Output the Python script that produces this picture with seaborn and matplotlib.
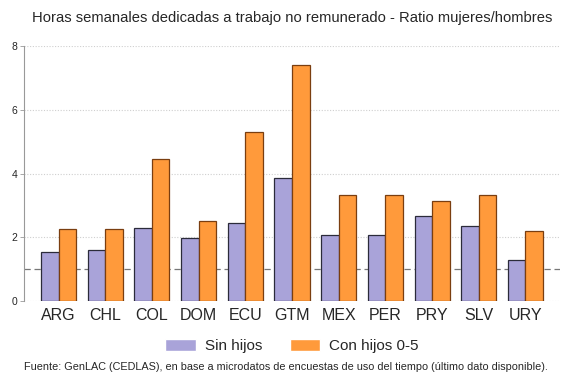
import numpy as np
import pandas as pd
import matplotlib
matplotlib.use("Agg")
import matplotlib.pyplot as plt
import seaborn as sns

# Data
paises = ['ARG', 'CHL', 'COL', 'DOM', 'ECU', 'GTM', 'MEX', 'PER', 'PRY', 'SLV', 'URY']
sin_hijos = [1.55, 1.60, 2.30, 1.98, 2.46, 3.86, 2.06, 2.08, 2.66, 2.36, 1.30]
con_hijos = [2.27, 2.27, 4.47, 2.52, 5.30, 7.40, 3.33, 3.33, 3.13, 3.33, 2.21]
series = ['Sin hijos', 'Con hijos 0-5']

df = pd.DataFrame({
    'pais': paises * 2,
    'ratio': sin_hijos + con_hijos,
    'grupo': [series[0]] * len(paises) + [series[1]] * len(paises),
})

sns.set_style("white")
plt.rcParams['font.family'] = ['Liberation Sans', 'DejaVu Sans']

colores = {'Sin hijos': '#a9a3d9', 'Con hijos 0-5': '#ff9a3b'}
bordes = {'Sin hijos': '#2b2b3a', 'Con hijos 0-5': '#7a3e10'}

fig = plt.figure(figsize=(5.69, 3.80), dpi=100)
ax = fig.add_axes([24 / 569, 1 - 301 / 380, (560 - 24) / 569, (301 - 46) / 380])

sns.barplot(data=df, x='pais', y='ratio', hue='grupo', palette=colores,
            width=0.75, gap=0, ax=ax, legend=True, saturation=1)

# edge colours per series
for cont, s in zip(ax.containers, series):
    for p in cont:
        p.set_edgecolor(bordes[s])
        p.set_linewidth(0.9)

ax.set_ylim(0, 8)
ax.set_xlim(-0.74, 10.74)
ax.set_yticks([0, 2, 4, 6, 8])
for yv in [0, 2, 4, 6, 8]:
    ax.axhline(yv, color='#cfcfcf', linestyle=(0, (1, 1.5)), linewidth=0.8, zorder=0)
ax.axhline(1, color='#777777', linestyle=(0, (5, 3)), linewidth=0.9, zorder=0.5)

ax.set_xlabel('')
ax.set_ylabel('')
ax.tick_params(axis='x', labelsize=11.5, length=0, pad=5)
ax.tick_params(axis='y', labelsize=7.5, length=3, width=0.6, color='#999999', pad=2, left=True)
for s in ['top', 'right', 'bottom']:
    ax.spines[s].set_visible(False)
ax.spines['left'].set_color('#999999')
ax.spines['left'].set_linewidth(0.8)

leg = ax.legend(loc='upper center', bbox_to_anchor=(0.5, -0.095), ncol=2, frameon=False,
                fontsize=11, handlelength=2.0, handleheight=0.8, columnspacing=1.8,
                handletextpad=0.6)

fig.text(292 / 569, 1 - 18 / 380, 'Horas semanales dedicadas a trabajo no remunerado - Ratio mujeres/hombres',
         ha='center', va='center', fontsize=10.6)
fig.text(286 / 569, 1 - 367 / 380,
         'Fuente: GenLAC (CEDLAS), en base a microdatos de encuestas de uso del tiempo (último dato disponible).',
         ha='center', va='center', fontsize=7.8)

fig.savefig('out.png', dpi=100)
